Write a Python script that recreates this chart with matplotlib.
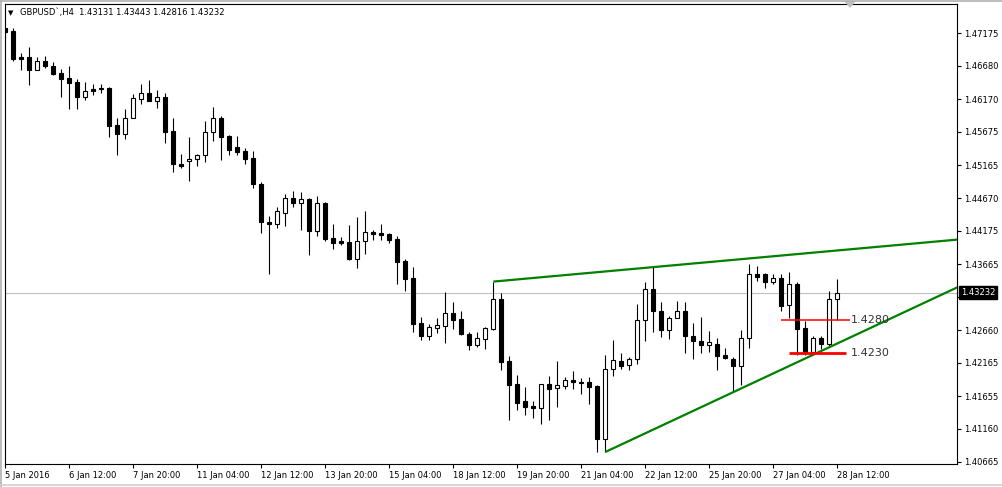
import numpy as np
import matplotlib
matplotlib.use('Agg')
import matplotlib.pyplot as plt
import matplotlib.transforms as mtransforms
from matplotlib.lines import Line2D
from matplotlib.patches import Polygon

plt.rcParams['font.family'] = ['DejaVu Sans']

# GBPUSD H4 candles, 5 Jan 2016 04:00 .. 28 Jan 2016 12:00
opens = [1.4725, 1.4721, 1.4681, 1.4681, 1.4662, 1.4675, 1.4667, 1.4657, 1.4649, 1.4643,
         1.4621, 1.4633, 1.4634, 1.4634, 1.4578, 1.4565, 1.4588, 1.4617, 1.4626, 1.4614,
         1.4620, 1.4569, 1.4519, 1.4523, 1.4526, 1.4532, 1.4567, 1.4588, 1.4561, 1.4545,
         1.4538, 1.4528, 1.4489, 1.4431, 1.4428, 1.4444, 1.4467, 1.4459, 1.4466, 1.4417,
         1.4459, 1.4407, 1.4401, 1.4400, 1.4375, 1.4401, 1.4416, 1.4414, 1.4413, 1.4404,
         1.4371, 1.4345, 1.4277, 1.4257, 1.4270, 1.4273, 1.4293, 1.4283, 1.4261, 1.4243,
         1.4253, 1.4268, 1.4314, 1.4219, 1.4184, 1.4159, 1.4151, 1.4148, 1.4184, 1.4178,
         1.4182, 1.4190, 1.4187, 1.4187, 1.4181, 1.4101, 1.4207, 1.4219, 1.4213, 1.4223,
         1.4281, 1.4328, 1.4295, 1.4267, 1.4284, 1.4296, 1.4258, 1.4250, 1.4243, 1.4245,
         1.4228, 1.4223, 1.4211, 1.4254, 1.4352, 1.4352, 1.4339, 1.4345, 1.4304, 1.4337,
         1.4269, 1.4233, 1.4254, 1.4245, 1.43131]
highs = [1.4726, 1.4725, 1.4687, 1.4696, 1.4681, 1.4683, 1.4673, 1.4663, 1.4668, 1.4648,
         1.4644, 1.4640, 1.4641, 1.4635, 1.4588, 1.4603, 1.4625, 1.4640, 1.4646, 1.4631,
         1.4626, 1.4588, 1.4534, 1.4560, 1.4534, 1.4584, 1.4605, 1.4592, 1.4563, 1.4561,
         1.4543, 1.4538, 1.4492, 1.4440, 1.4454, 1.4473, 1.4478, 1.4476, 1.4467, 1.4470,
         1.4461, 1.4428, 1.4408, 1.4426, 1.4438, 1.4447, 1.4418, 1.4428, 1.4414, 1.4410,
         1.4374, 1.4362, 1.4286, 1.4275, 1.4285, 1.4324, 1.4309, 1.4295, 1.4263, 1.4263,
         1.4271, 1.4340, 1.4322, 1.4227, 1.4198, 1.4180, 1.4158, 1.4185, 1.4196, 1.4219,
         1.4195, 1.4204, 1.4193, 1.4195, 1.4183, 1.4228, 1.4251, 1.4231, 1.4225, 1.4306,
         1.4339, 1.4364, 1.4309, 1.4288, 1.4311, 1.4309, 1.4277, 1.4286, 1.4265, 1.4254,
         1.4239, 1.4225, 1.4266, 1.4367, 1.4364, 1.4353, 1.4351, 1.4352, 1.4354, 1.4340,
         1.4280, 1.4258, 1.4258, 1.4325, 1.43443]
lows = [1.4709, 1.4676, 1.4661, 1.4639, 1.4661, 1.4664, 1.4654, 1.4620, 1.4603, 1.4603,
        1.4616, 1.4624, 1.4626, 1.4560, 1.4532, 1.4556, 1.4588, 1.4610, 1.4614, 1.4604,
        1.4551, 1.4507, 1.4512, 1.4493, 1.4516, 1.4522, 1.4554, 1.4525, 1.4533, 1.4533,
        1.4518, 1.4483, 1.4414, 1.4352, 1.4422, 1.4425, 1.4453, 1.4418, 1.4380, 1.4410,
        1.4402, 1.4390, 1.4395, 1.4373, 1.4361, 1.4382, 1.4403, 1.4403, 1.4399, 1.4336,
        1.4325, 1.4263, 1.4251, 1.4251, 1.4262, 1.4247, 1.4268, 1.4259, 1.4236, 1.4241,
        1.4238, 1.4266, 1.4206, 1.4129, 1.4145, 1.4137, 1.4133, 1.4124, 1.4130, 1.4150,
        1.4177, 1.4177, 1.4169, 1.4154, 1.4081, 1.4081, 1.4197, 1.4207, 1.4205, 1.4215,
        1.4249, 1.4263, 1.4256, 1.4252, 1.4284, 1.4232, 1.4223, 1.4231, 1.4233, 1.4206,
        1.4223, 1.4174, 1.4183, 1.4239, 1.4341, 1.4330, 1.4337, 1.4296, 1.4284, 1.4228,
        1.4228, 1.4231, 1.4238, 1.4242, 1.42816]
closes = [1.4720, 1.4678, 1.4679, 1.4662, 1.4675, 1.4667, 1.4656, 1.4648, 1.4642, 1.4621,
          1.4629, 1.4630, 1.4632, 1.4577, 1.4565, 1.4588, 1.4619, 1.4626, 1.4614, 1.4620,
          1.4568, 1.4518, 1.4516, 1.4526, 1.4532, 1.4567, 1.4588, 1.4560, 1.4540, 1.4537,
          1.4527, 1.4489, 1.4430, 1.4428, 1.4447, 1.4467, 1.4459, 1.4465, 1.4417, 1.4459,
          1.4405, 1.4399, 1.4399, 1.4374, 1.4401, 1.4415, 1.4413, 1.4411, 1.4403, 1.4370,
          1.4344, 1.4276, 1.4258, 1.4271, 1.4274, 1.4293, 1.4282, 1.4260, 1.4243, 1.4254,
          1.4269, 1.4314, 1.4218, 1.4183, 1.4156, 1.4150, 1.4148, 1.4184, 1.4177, 1.4183,
          1.4190, 1.4187, 1.4186, 1.4180, 1.4101, 1.4207, 1.4221, 1.4212, 1.4223, 1.4281,
          1.4328, 1.4295, 1.4266, 1.4284, 1.4296, 1.4258, 1.4249, 1.4243, 1.4248, 1.4227,
          1.4224, 1.4211, 1.4254, 1.4352, 1.4347, 1.4339, 1.4345, 1.4303, 1.4337, 1.4268,
          1.4233, 1.4254, 1.4245, 1.4314, 1.43232]

xtick_labels = ['5 Jan 2016', '6 Jan 12:00', '7 Jan 20:00', '11 Jan 04:00', '12 Jan 12:00',
                '13 Jan 20:00', '15 Jan 04:00', '18 Jan 12:00', '19 Jan 20:00', '21 Jan 04:00',
                '22 Jan 12:00', '25 Jan 20:00', '27 Jan 04:00', '28 Jan 12:00']
ytick_vals = [1.47175, 1.46680, 1.46170, 1.45675, 1.45165, 1.44670, 1.44175,
              1.43665, 1.43170, 1.42660, 1.42165, 1.41655, 1.41160, 1.40665]

# trend lines: two anchor points (bar, price), drawn as rays to the right
upper_pts = [(61, 1.4340), (81, 1.4362)]
lower_pts = [(75, 1.4081), (91, 1.4172)]
# horizontal red levels: (from bar, to bar, price, text)
levels = [(97.0, 105.6, 1.4281, '1.4280'), (98.0, 105.1, 1.4232, '1.4230')]
last_price = 1.43232

W, H = 1002, 487
fig = plt.figure(figsize=(W / 100, H / 100), dpi=100)
left, right, top, bottom = 4.5, 957.3, 4, 464.3
ax = fig.add_axes([left / W, 1 - bottom / H, (right - left) / W, (bottom - top) / H])

o = np.array(opens); h = np.array(highs); l = np.array(lows); c = np.array(closes)
x = np.arange(len(o))
bull = c > o

ax.vlines(x, l, h, color='black', linewidth=0.8, zorder=3)
ax.bar(x, np.abs(c - o), bottom=np.minimum(o, c), width=0.5,
       color=np.where(bull, 'white', 'black'), edgecolor='black', linewidth=0.8, zorder=4)

ax.axhline(last_price, color='#c0c0c0', linewidth=0.8, zorder=1)

xmax = 119.0
for pts in (upper_pts, lower_pts):
    (x0, y0), (x1, y1) = pts
    k = (y1 - y0) / (x1 - x0)
    ax.plot([x0, xmax], [y0, y0 + k * (xmax - x0)], color='#008000', linewidth=1.6,
            zorder=5, solid_capstyle='butt')

for (xa, xb, lev, txt), lw in zip(levels, (1.1, 2.0)):
    ax.plot([xa, xb], [lev, lev], color='#ff0000', linewidth=lw, zorder=6, solid_capstyle='butt')
    ax.text(105.7, lev, txt, fontsize=8, color='#333333', va='center', ha='left', zorder=7)

ax.set_xlim(-0.1, xmax)
ax.set_ylim(1.40623, 1.47619)

ax.set_xticks(np.arange(0, len(o), 8))
ax.set_xticklabels(xtick_labels)
for t in ax.get_xticklabels():
    t.set_ha('left')
ax.yaxis.tick_right()
ax.set_yticks(ytick_vals)
# the label under the current price box is hidden in the terminal
ax.set_yticklabels(['' if abs(v - last_price) < 0.002 else '%.5f' % v for v in ytick_vals])
ax.tick_params(axis='both', labelsize=6, length=3, width=0.8, color='black', labelcolor='black')
ax.tick_params(axis='x', pad=2)
ax.tick_params(axis='y', pad=2)
for s in ax.spines.values():
    s.set_linewidth(0.8)
    s.set_color('black')

# current price box on the right scale
trans = mtransforms.blended_transform_factory(ax.transAxes, ax.transData)
ax.text(1.0035, last_price, '1.43232', transform=trans, fontsize=6, color='white',
        va='center', ha='left', zorder=10,
        bbox=dict(boxstyle='square,pad=0.2', facecolor='black', edgecolor='black'))

# header
fig.text(8 / W, 1 - 13 / H, '\u25bc', fontsize=5, va='center', ha='left')
fig.text(20 / W, 1 - 13 / H, 'GBPUSD`,H4  1.43131 1.43443 1.42816 1.43232',
         fontsize=6, va='center', ha='left')

# window frame and chart shift marker
fig.add_artist(Line2D([0.5 / W, 0.5 / W], [0, 1], color='#b0b0b0', linewidth=1.2))
fig.add_artist(Line2D([0, 1], [1 - 485 / H, 1 - 485 / H], color='#d0d0d0', linewidth=1.2))
fig.add_artist(Line2D([0, 1], [1 - 0.8 / H, 1 - 0.8 / H], color='#b0b0b0', linewidth=1.2))
fig.add_artist(Polygon([[844 / W, 1 - 1 / H], [856 / W, 1 - 1 / H], [850 / W, 1 - 8 / H]],
                       closed=True, facecolor='#c0c0c0', edgecolor='none',
                       transform=fig.transFigure))

fig.savefig('out.png', dpi=100, facecolor='white')
